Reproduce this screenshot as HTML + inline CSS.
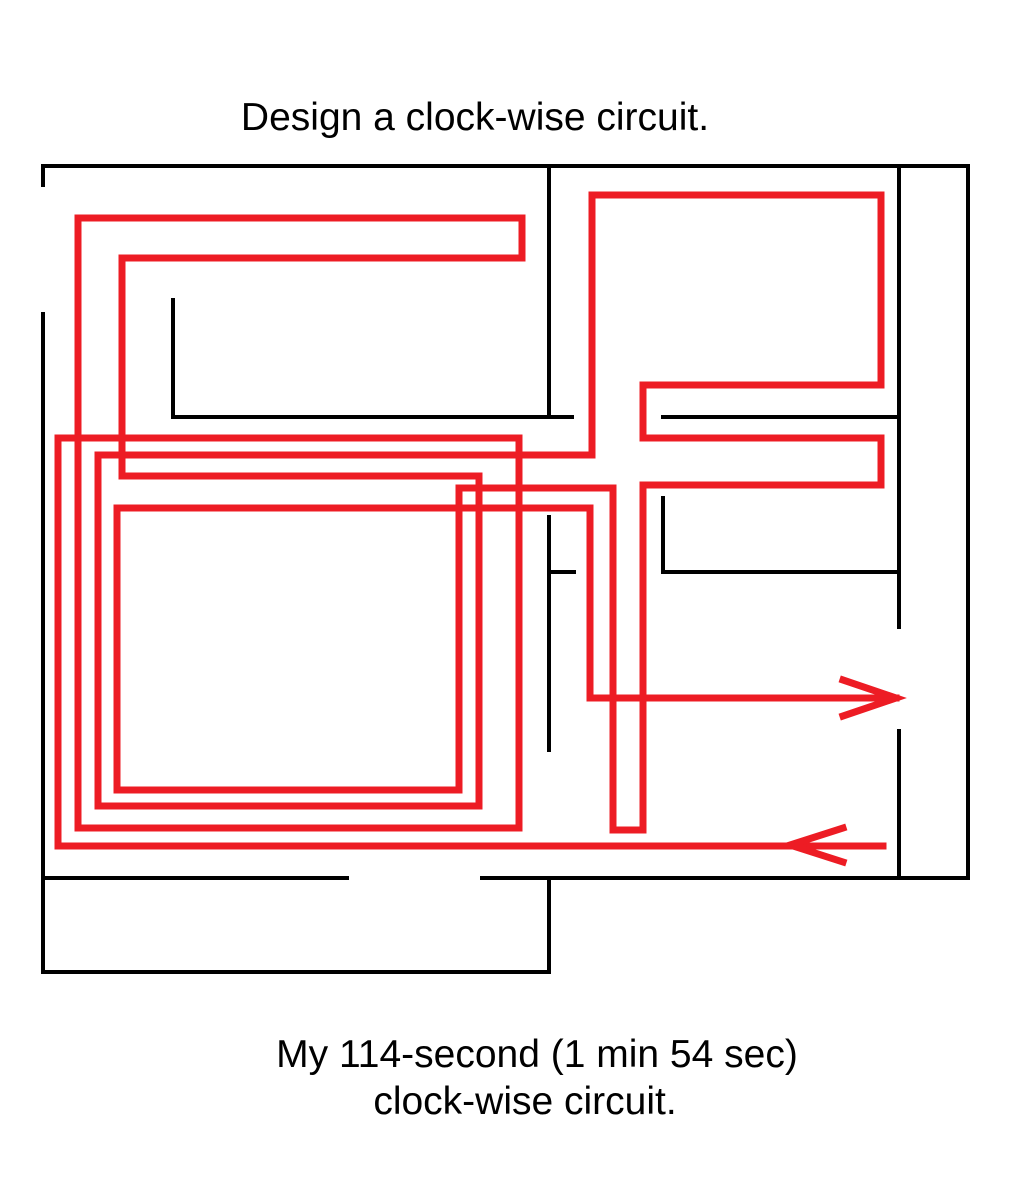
<!DOCTYPE html>
<html><head><meta charset="utf-8"><style>
html,body{margin:0;padding:0;background:#fff;}
svg{display:block;}
text{font-family:"Liberation Sans",Arial,sans-serif;fill:#000;}
</style></head><body>
<svg width="1014" height="1200" viewBox="0 0 1014 1200" xmlns="http://www.w3.org/2000/svg">
<rect width="1014" height="1200" fill="#fff"/>
<text x="475" y="130" font-size="39" text-anchor="middle">Design a clock-wise circuit.</text>
<g stroke="#000" stroke-width="4" fill="none" stroke-linecap="square">
<line x1="43" y1="166" x2="968" y2="166"/>
<line x1="43" y1="166" x2="43" y2="185"/>
<line x1="43" y1="314" x2="43" y2="972"/>
<line x1="968" y1="166" x2="968" y2="878"/>
<line x1="549" y1="166" x2="549" y2="417"/>
<polyline points="173,300 173,417 572,417"/>
<line x1="899" y1="166" x2="899" y2="627"/>
<line x1="899" y1="731" x2="899" y2="878"/>
<line x1="663" y1="417" x2="899" y2="417"/>
<polyline points="663,498 663,572 899,572"/>
<line x1="549" y1="517" x2="549" y2="750"/>
<line x1="549" y1="572" x2="574" y2="572"/>
<line x1="43" y1="878" x2="347" y2="878"/>
<line x1="482" y1="878" x2="968" y2="878"/>
<line x1="549" y1="878" x2="549" y2="972"/>
<line x1="43" y1="972" x2="549" y2="972"/>
</g>
<g stroke="#ed1c24" stroke-width="7" fill="none" stroke-linejoin="miter" stroke-linecap="square">
<polyline points="883,846 58,846 58,438 519,438 519,828 78,828 78,218 522,218 522,258 122,258 122,476 479,476 479,806 98,806 98,455 592,455 592,195 881,195 881,385 643,385 643,438 881,438 881,485 643,485 643,830 613,830 613,488 459,488 459,790 117,790 117,508 590,508 590,698 896,698"/>
<polyline points="843,680 896,698 843,716"/>
<polyline points="843,828 790,845 843,862"/>
</g>
<text x="537" y="1067" font-size="39" text-anchor="middle">My 114-second (1 min 54 sec)</text>
<text x="525" y="1114" font-size="39" text-anchor="middle">clock-wise circuit.</text>
</svg>
</body></html>
